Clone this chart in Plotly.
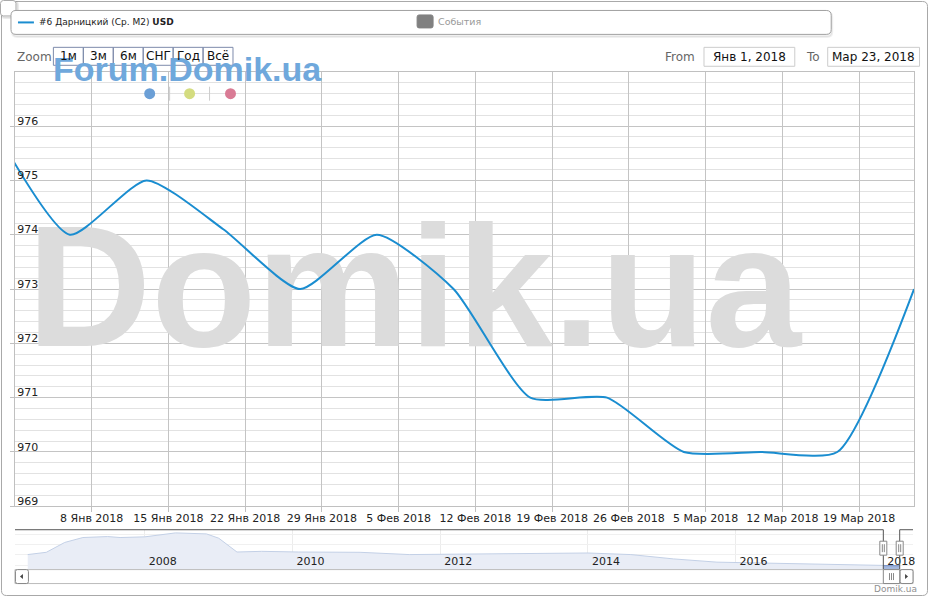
import plotly.graph_objects as go
import pandas as pd

W, H = 931, 600

# ---------------- data ----------------
dates = ["2017-12-30", "2018-01-06", "2018-01-13", "2018-01-20", "2018-01-27",
         "2018-02-03", "2018-02-10", "2018-02-17", "2018-02-24", "2018-03-03",
         "2018-03-10", "2018-03-17", "2018-03-24"]
values = [976, 974, 975, 974.1, 973, 974, 973, 971, 971, 970, 970, 970, 973]

x_tick_dates = ["2018-01-08", "2018-01-15", "2018-01-22", "2018-01-29", "2018-02-05",
                "2018-02-12", "2018-02-19", "2018-02-26", "2018-03-05", "2018-03-12",
                "2018-03-19"]
x_tick_labels = ["8 Янв 2018", "15 Янв 2018", "22 Янв 2018", "29 Янв 2018", "5 Фев 2018",
                 "12 Фев 2018", "19 Фев 2018", "26 Фев 2018", "5 Мар 2018", "12 Мар 2018",
                 "19 Мар 2018"]
y_tick_vals = [969, 970, 971, 972, 973, 974, 975, 976]

nav_dates = ["2006-06-01", "2006-09-01", "2006-12-01", "2007-03-01", "2007-07-01",
             "2007-09-01", "2008-01-01", "2008-06-01", "2008-11-01", "2009-01-01",
             "2009-04-01", "2009-08-01", "2010-02-01", "2010-12-01", "2011-08-01",
             "2012-04-01", "2012-12-01", "2014-01-01", "2014-08-01", "2015-03-01",
             "2015-10-01", "2016-04-01", "2017-03-01", "2017-12-01"]
nav_values = [1431, 1524, 1928, 2130, 2170, 2130, 2158, 2320, 2279, 2102,
              1536, 1564, 1536, 1524, 1431, 1455, 1471, 1496, 1431, 1253,
              1120, 1092, 1011, 990]

zoom_buttons = ["1м", "3м", "6м", "СНГ", "Год", "Всё"]
series_name = "#6 Дарницкий (Ср. М2) <b>USD</b>"
events_name = "События"
sel_from, sel_to = "2018-01-01", "2018-03-23"
from_label, to_label = "Янв 1, 2018", "Мар 23, 2018"
main_range = ["2018-01-01", "2018-03-24"]
main_yrange = [969, 977]
nav_range = ["2006-03-30", "2018-05-28"]

LINE = "#1a8dd0"
FONT = "DejaVu Sans"


def px(x):
    return x / W


def py(y):
    return 1 - y / H


def rrect(x0, y0, x1, y1, r):
    p = [("M", x0 + r, y0), ("L", x1 - r, y0), ("Q", x1, y0, x1, y0 + r),
         ("L", x1, y1 - r), ("Q", x1, y1, x1 - r, y1), ("L", x0 + r, y1),
         ("Q", x0, y1, x0, y1 - r), ("L", x0, y0 + r), ("Q", x0, y0, x0 + r, y0)]
    s = ""
    for seg in p:
        cmd = seg[0]
        coords = seg[1:]
        parts = []
        for i in range(0, len(coords), 2):
            parts.append(f"{px(coords[i]):.5f},{py(coords[i+1]):.5f}")
        s += cmd + " " + " ".join(parts) + " "
    return s + "Z"


def xfrac(f):
    t0, t1 = pd.Timestamp(main_range[0]), pd.Timestamp(main_range[1])
    return (t0 + (t1 - t0) * f).strftime("%Y-%m-%d %H:%M")


def yfrac(f):
    return main_yrange[0] + (main_yrange[1] - main_yrange[0]) * f


fig = go.Figure()

# main series
fig.add_trace(go.Scatter(x=dates, y=values, mode="lines", name="main",
                         line=dict(color=LINE, width=2, shape="spline", smoothing=0.6),
                         hoverinfo="skip", showlegend=False))

# navigator series
nav_x = nav_dates + dates[1:]
nav_y = nav_values + values[1:]
fig.add_trace(go.Scatter(x=nav_x, y=nav_y, xaxis="x2", yaxis="y2", mode="lines",
                         line=dict(color="#c3d0e6", width=1), fill="tozeroy",
                         fillcolor="#e9edf6", hoverinfo="skip", showlegend=False))
fig.add_trace(go.Scatter(x=dates, y=values, xaxis="x2", yaxis="y2", mode="lines",
                         line=dict(color="rgba(100,130,190,0.8)", width=1), fill="tozeroy",
                         fillcolor="rgba(110,140,200,0.55)", hoverinfo="skip", showlegend=False))

shapes = []
annotations = []

# big watermark between grid and traces
shapes.append(dict(type="rect", xref="x", yref="y", x0=xfrac(0.014), x1=xfrac(0.874),
                   y0=yfrac(0.434), y1=yfrac(0.654),
                   line=dict(width=0), fillcolor="rgba(0,0,0,0)", layer="between",
                   label=dict(text="Domik.ua", textposition="middle center",
                              font=dict(family="Liberation Sans", size=172, color="#dcdcdc", weight="bold"))))

# outer border
shapes.append(dict(type="path", xref="paper", yref="paper", path=rrect(1.5, 1.5, 929.5, 597.5, 5),
                   line=dict(color="#a8a8a8", width=1), fillcolor="rgba(0,0,0,0)", layer="below"))
# top-left small box
shapes.append(dict(type="path", xref="paper", yref="paper", path=rrect(2, 2, 18, 18, 3),
                   line=dict(color="rgba(0,0,0,0.08)", width=2), fillcolor="rgba(0,0,0,0.06)"))
shapes.append(dict(type="path", xref="paper", yref="paper", path=rrect(0.5, 0.5, 16, 16, 3),
                   line=dict(color="#aaaaaa", width=1), fillcolor="white"))
# legend box with shadow
shapes.append(dict(type="path", xref="paper", yref="paper", path=rrect(12, 12, 834, 37, 5),
                   line=dict(color="rgba(0,0,0,0.06)", width=2), fillcolor="rgba(0,0,0,0.06)"))
shapes.append(dict(type="path", xref="paper", yref="paper", path=rrect(11, 10.5, 833, 34.5, 5),
                   line=dict(color="#a0a0a0", width=1), fillcolor="white"))
shapes.append(dict(type="line", xref="paper", yref="paper", x0=px(18), x1=px(34), y0=py(22.5), y1=py(22.5),
                   line=dict(color=LINE, width=2)))
annotations.append(dict(text=series_name, x=px(37), y=py(22.5), xref="paper", yref="paper",
                        xanchor="left", yanchor="middle", showarrow=False,
                        font=dict(family=FONT, size=9, color="#222")))
shapes.append(dict(type="path", xref="paper", yref="paper", path=rrect(418, 15, 434, 28, 2),
                   line=dict(color="#808080", width=1), fillcolor="#808080"))
annotations.append(dict(text=events_name, x=px(437), y=py(22), xref="paper", yref="paper",
                        xanchor="left", yanchor="middle", showarrow=False,
                        font=dict(family=FONT, size=9.5, color="#999")))

# Forum watermark
annotations.append(dict(text="Forum.Domik.ua", x=px(51), y=py(69.5), xref="paper", yref="paper",
                        xanchor="left", yanchor="middle", showarrow=False,
                        font=dict(family="Liberation Sans", size=34, color="#6fa8dc", weight="bold")))
# dots
for cx, col in [(150, "#6b9fd6"), (190, "#d4dc80"), (231, "#d97b95")]:
    shapes.append(dict(type="circle", xref="paper", yref="paper", x0=px(cx - 5.5), x1=px(cx + 5.5),
                       y0=py(94 + 5.5), y1=py(94 - 5.5), line=dict(width=0), fillcolor=col))
for sx in [170, 210]:
    shapes.append(dict(type="line", xref="paper", yref="paper", x0=px(sx), x1=px(sx), y0=py(87), y1=py(101),
                       line=dict(color="#cccccc", width=1)))

# Zoom row
annotations.append(dict(text="Zoom", x=px(15), y=py(57), xref="paper", yref="paper",
                        xanchor="left", yanchor="middle", showarrow=False,
                        font=dict(family=FONT, size=12, color="#666")))
for i, lab in enumerate(zoom_buttons):
    x0 = 53.5 + 30 * i
    shapes.append(dict(type="rect", xref="paper", yref="paper", x0=px(x0), x1=px(x0 + 30),
                       y0=py(65.5), y1=py(47.5), line=dict(color="#7d8bab", width=1)))
    annotations.append(dict(text=lab, x=px(x0 + 15), y=py(56.5), xref="paper", yref="paper",
                            xanchor="center", yanchor="middle", showarrow=False,
                            font=dict(family=FONT, size=12, color="#111")))

# From / To
annotations.append(dict(text="From", x=px(698), y=py(57), xref="paper", yref="paper",
                        xanchor="right", yanchor="middle", showarrow=False,
                        font=dict(family=FONT, size=12, color="#666")))
shapes.append(dict(type="rect", xref="paper", yref="paper", x0=px(705.5), x1=px(796.5),
                   y0=py(66.5), y1=py(47.5), line=dict(color="#cccccc", width=1)))
annotations.append(dict(text=from_label, x=px(751), y=py(57), xref="paper", yref="paper",
                        xanchor="center", yanchor="middle", showarrow=False,
                        font=dict(family=FONT, size=12, color="#111")))
annotations.append(dict(text="To", x=px(806), y=py(57), xref="paper", yref="paper",
                        xanchor="left", yanchor="middle", showarrow=False,
                        font=dict(family=FONT, size=12, color="#666")))
shapes.append(dict(type="rect", xref="paper", yref="paper", x0=px(829.5), x1=px(921.5),
                   y0=py(66.5), y1=py(47.5), line=dict(color="#cccccc", width=1)))
annotations.append(dict(text=to_label, x=px(875.5), y=py(57), xref="paper", yref="paper",
                        xanchor="center", yanchor="middle", showarrow=False,
                        font=dict(family=FONT, size=12, color="#111")))

# navigator outline
NAV_TOP, NAV_BOT = 531.5, 571
OUT = "#555555"
shapes.append(dict(type="line", xref="x2", yref="paper", x0=nav_range[0], x1=sel_from, y0=py(NAV_TOP), y1=py(NAV_TOP),
                   line=dict(color=OUT, width=1)))
shapes.append(dict(type="line", xref="x2", yref="paper", x0=sel_to, x1=nav_range[1], y0=py(NAV_TOP), y1=py(NAV_TOP),
                   line=dict(color=OUT, width=1)))
for d in [sel_from, sel_to]:
    shapes.append(dict(type="line", xref="x2", yref="paper", x0=d, x1=d, y0=py(NAV_TOP), y1=py(NAV_BOT),
                       line=dict(color=OUT, width=1)))
    shapes.append(dict(type="rect", xref="x2", yref="paper", xsizemode="pixel", xanchor=d, x0=-3.5, x1=3.5,
                       y0=py(557), y1=py(543), line=dict(color="#888", width=1), fillcolor="white"))
    for off in [-1, 1]:
        shapes.append(dict(type="line", xref="x2", yref="paper", xsizemode="pixel", xanchor=d, x0=off, x1=off,
                           y0=py(554), y1=py(546), line=dict(color="#888", width=1)))

# scrollbar
SB_T, SB_B = 571.5, 585.5
shapes.append(dict(type="rect", xref="paper", yref="paper", x0=px(15), x1=px(915), y0=py(SB_B), y1=py(SB_T),
                   line=dict(color="#bbbbbb", width=1), fillcolor="white"))
shapes.append(dict(type="path", xref="paper", yref="paper", path=rrect(15.5, SB_T, 28.5, SB_B, 2),
                   line=dict(color="#888", width=1), fillcolor="white"))
shapes.append(dict(type="path", xref="paper", yref="paper",
                   path=f"M {px(23)},{py(576)} L {px(20)},{py(578.5)} L {px(23)},{py(581)} Z",
                   line=dict(width=0), fillcolor="#444"))
shapes.append(dict(type="path", xref="paper", yref="paper", path=rrect(902, SB_T, 915, SB_B, 2),
                   line=dict(color="#888", width=1), fillcolor="white"))
shapes.append(dict(type="path", xref="paper", yref="paper",
                   path=f"M {px(907)},{py(576)} L {px(910)},{py(578.5)} L {px(907)},{py(581)} Z",
                   line=dict(width=0), fillcolor="#444"))
shapes.append(dict(type="rect", xref="x2", yref="paper", x0=sel_from, x1=sel_to, y0=py(SB_B), y1=py(SB_T),
                   line=dict(color="#888", width=1), fillcolor="white"))
mid = (pd.Timestamp(sel_from) + (pd.Timestamp(sel_to) - pd.Timestamp(sel_from)) / 2).strftime("%Y-%m-%d %H:%M")
for off in [-2, 0, 2]:
    shapes.append(dict(type="line", xref="x2", yref="paper", xsizemode="pixel", xanchor=mid, x0=off, x1=off,
                       y0=py(582), y1=py(575), line=dict(color="#888", width=1)))

# credits
annotations.append(dict(text="Domik.ua", x=px(921), y=py(591), xref="paper", yref="paper",
                        xanchor="right", yanchor="middle", showarrow=False,
                        font=dict(family=FONT, size=9, color="#909090")))

fig.update_layout(
    width=W, height=H, autosize=False,
    margin=dict(l=0, r=0, t=0, b=0, pad=0),
    paper_bgcolor="white", plot_bgcolor="white",
    showlegend=False,
    font=dict(family=FONT, size=11, color="#222"),
    xaxis=dict(domain=[px(15), px(916)], anchor="y", type="date", range=main_range,
               tickmode="array", tickvals=x_tick_dates, ticktext=x_tick_labels,
               ticks="outside", ticklen=5, tickcolor="#c0c0c0", ticklabelstandoff=-4,
               showgrid=True, gridcolor="#c4c4c4", gridwidth=1,
               showline=True, linecolor="#c0c0c0", mirror=True, zeroline=False,
               tickfont=dict(family=FONT, size=11, color="#222"), fixedrange=True),
    yaxis=dict(domain=[py(508), py(72)], anchor="x", range=main_yrange,
               tickmode="array", tickvals=y_tick_vals, ticklabelposition="inside top",
               ticklabelstandoff=1, ticklabelshift=3, ticklabeloverflow="allow",
               ticks="outside", ticklen=4, tickcolor="#c0c0c0",
               showgrid=True, gridcolor="#c4c4c4", gridwidth=1,
               minor=dict(dtick=0.2, tick0=969, showgrid=True, gridcolor="#e2e2e2", ticks=""),
               showline=True, linecolor="#c0c0c0", mirror=True, zeroline=False,
               tickfont=dict(family=FONT, size=11, color="#222"), fixedrange=True),
    xaxis2=dict(domain=[px(15), px(915)], anchor="y2", type="date", range=nav_range,
                tick0="2008-01-01", dtick="M24", tickformat="%Y", ticklabelposition="inside right",
                ticklabelshift=4, ticklabelstandoff=-4, ticklabeloverflow="allow",
                ticks="", showgrid=True, gridcolor="#ececec", showline=False, zeroline=False,
                tickfont=dict(family=FONT, size=11, color="#222"), fixedrange=True),
    yaxis2=dict(domain=[py(NAV_BOT), py(NAV_TOP)], anchor="x2", range=[835, 2450],
                showticklabels=False, ticks="", tick0=1000, dtick=420,
                showgrid=True, gridcolor="#f0f0f0", zeroline=False, showline=False, fixedrange=True),
    shapes=shapes,
    annotations=annotations,
)

fig.write_html("out.html", config={"displayModeBar": False},
               post_script="document.body.style.margin='0px';")
